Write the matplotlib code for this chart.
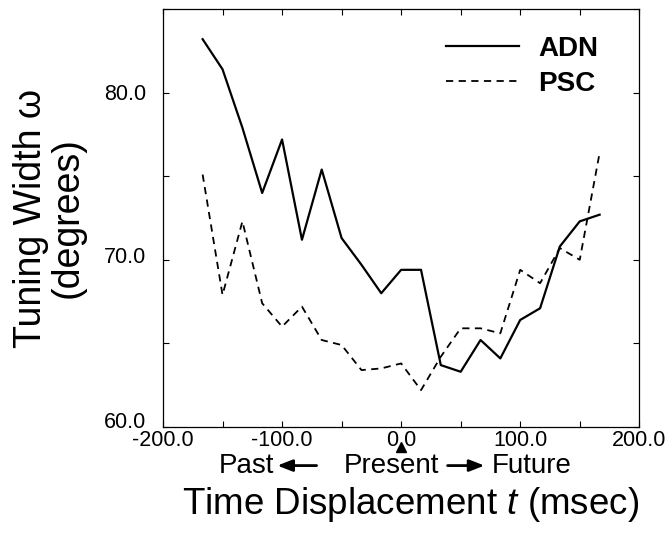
import numpy as np
import matplotlib
matplotlib.use("Agg")
import matplotlib.pyplot as plt
import matplotlib.ticker as mtick
import matplotlib.transforms as mtrans

plt.rcParams["font.family"] = ["Liberation Sans", "DejaVu Sans"]
plt.rcParams["mathtext.fontset"] = "custom"
plt.rcParams["mathtext.rm"] = "Liberation Sans"
plt.rcParams["mathtext.it"] = "Liberation Sans:italic"

# ── data ────────────────────────────────────────────────────
t_ms = [-166.7, -150.0, -133.3, -116.7, -100.0, -83.3, -66.7, -50.0, -33.3, -16.7,
        0.0, 16.7, 33.3, 50.0, 66.7, 83.3, 100.0, 116.7, 133.3, 150.0, 166.7]
adn = [83.2, 81.4, 77.9, 74.0, 77.2, 71.2, 75.4, 71.3, 69.7, 68.0,
       69.4, 69.4, 63.7, 63.3, 65.2, 64.1, 66.4, 67.1, 70.8, 72.3, 72.7]
psc = [75.1, 67.9, 72.3, 67.4, 66.0, 67.2, 65.2, 64.9, 63.4, 63.5,
       63.8, 62.2, 64.2, 65.9, 65.9, 65.6, 69.4, 68.6, 70.7, 70.0, 76.4]

x_ticks = [-200, -100, 0, 100, 200]
y_ticks = [60, 70, 80]

# ── figure ───────────────────────────────────────────────────
fig = plt.figure(figsize=(6.68, 5.37), dpi=100)
ax = fig.add_axes([0.244, 0.205, 0.713, 0.778])

ax.plot(t_ms, adn, color="black", lw=1.6, label="ADN")
ax.plot(t_ms, psc, color="black", lw=1.3, linestyle=(0, (4, 3)), label="PSC")

ax.set_xlim(-200, 200)
ax.set_ylim(60, 85)
ax.set_xticks(x_ticks)
ax.set_yticks(y_ticks)
ax.xaxis.set_minor_locator(mtick.MultipleLocator(50))
ax.yaxis.set_minor_locator(mtick.MultipleLocator(5))
ax.xaxis.set_major_formatter(mtick.FormatStrFormatter("%.1f"))
ax.yaxis.set_major_formatter(mtick.FormatStrFormatter("%.1f"))
ax.tick_params(which="both", direction="in", top=True, right=True,
               length=4, width=0.8)
ax.tick_params(axis="x", labelsize=15.5, pad=2)
ax.tick_params(axis="y", labelsize=15.5, pad=12)
for s in ax.spines.values():
    s.set_linewidth(0.9)

# y tick labels sit a little above their ticks in the original
fig.canvas.draw()
for lab, up in zip(ax.get_yticklabels(), [7, 5, 1]):
    lab.set_transform(lab.get_transform()
                      + mtrans.ScaledTranslation(0, up / 100, fig.dpi_scale_trans))

leg = ax.legend(loc="upper right", bbox_to_anchor=(0.937, 0.962), frameon=False,
                prop={"weight": "bold", "size": 20}, handlelength=2.6,
                handletextpad=0.7, labelspacing=0.32, borderaxespad=0)

# ── axis annotations ─────────────────────────────────────────
blend = mtrans.blended_transform_factory(ax.transData, fig.transFigure)
row_y = 0.133
ax.plot([0], [0.167], marker="^", color="black", markersize=7,
        transform=blend, clip_on=False)
ax.text(-130, row_y, "Past", transform=blend, ha="center", va="center", fontsize=20)
ax.text(-8, row_y, "Present", transform=blend, ha="center", va="center", fontsize=20)
ax.text(110, row_y, "Future", transform=blend, ha="center", va="center", fontsize=20)
arrow_kw = dict(arrowstyle="-|>,head_length=0.9,head_width=0.35", lw=2, color="black",
                shrinkA=0, shrinkB=0)
ax.annotate("", xy=(-104, row_y), xytext=(-71, row_y), xycoords=blend,
            textcoords=blend, arrowprops=arrow_kw)
ax.annotate("", xy=(70, row_y), xytext=(39, row_y), xycoords=blend,
            textcoords=blend, arrowprops=arrow_kw)

fig.text(0.615, 0.06, "Time Displacement $t$ (msec)", ha="center", va="center",
         fontsize=26.5)
fig.text(0.074, 0.594, "Tuning Width ω\n(degrees)", rotation=90, ha="center",
         va="center", multialignment="center", fontsize=27, linespacing=1.0)

fig.savefig("out.png", dpi=100)
